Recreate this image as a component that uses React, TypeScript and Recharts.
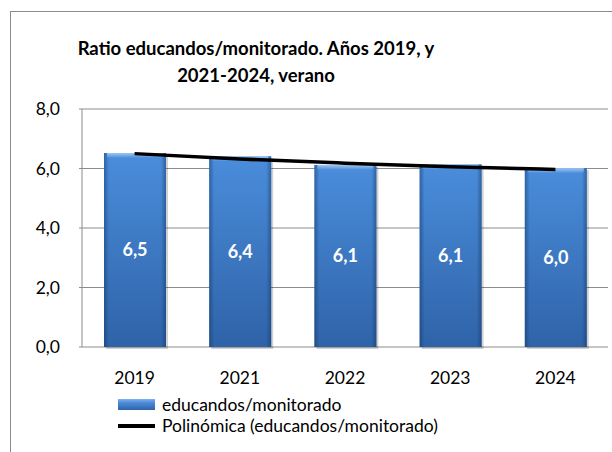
import React from 'react';
import { ComposedChart, Bar, Line, XAxis, YAxis, CartesianGrid, LabelList } from 'recharts';

const years = ['2019', '2021', '2022', '2023', '2024'];
const ratio = [6.52, 6.41, 6.12, 6.14, 6.01];
const trend = [6.5, 6.32, 6.18, 6.06, 5.97];
const yTicks = [0, 2, 4, 6, 8];

const data = years.map((year, i) => ({ year, ratio: ratio[i], trend: trend[i] }));

const FONT = 'Lato, "Open Sans", sans-serif';
const fmt = (v: number) => v.toFixed(1).replace('.', ',');

const BevelBar = (props: any) => {
  const { x, y, width, height } = props;
  if (!height || height <= 0) return null;
  return (
    <g>
      <rect x={x + 2} y={y + 2} width={width} height={height} fill="rgba(0,0,0,0.18)" />
      <rect x={x} y={y} width={width} height={height} fill="url(#barFill)" />
      <rect x={x} y={y} width={width} height={height} fill="url(#barEdge)" />
      <rect x={x + 3} y={y} width={width - 6} height={5} fill="url(#barTop)" />
    </g>
  );
};

const ChartLegend = () => (
  <div
    style={{
      position: 'absolute',
      left: 118,
      top: 394,
      fontFamily: FONT,
      fontSize: 17.5,
      color: '#000',
      lineHeight: '21px',
    }}
  >
    <div style={{ display: 'flex', alignItems: 'center' }}>
      <span
        style={{
          display: 'inline-block',
          width: 37,
          height: 11,
          marginRight: 7,
          background: 'linear-gradient(#7fb2ee 0%, #4a8ad8 35%, #2f64aa 100%)',
        }}
      />
      educandos/monitorado
    </div>
    <div style={{ display: 'flex', alignItems: 'center' }}>
      <span style={{ display: 'inline-block', width: 37, height: 4, marginRight: 7, background: '#000' }} />
      Polinómica (educandos/monitorado)
    </div>
  </div>
);

const App: React.FC = () => {
  return (
    <div style={{ position: 'absolute', left: 0, top: 0, width: 612, height: 452, background: '#fff', overflow: 'hidden' }}>
      <div
        style={{
          position: 'absolute',
          left: 10,
          top: 11,
          width: 640,
          height: 480,
          border: '1px solid #8c8c8c',
        }}
      />
      <div
        style={{
          position: 'absolute',
          left: 0,
          width: 512,
          top: 35,
          textAlign: 'center',
          fontFamily: FONT,
          fontWeight: 'bold',
          fontSize: 18.5,
          lineHeight: '27px',
          color: '#000',
        }}
      >
        Ratio educandos/monitorado. Años 2019, y
        <br />
        2021-2024, verano
      </div>
      <ComposedChart
        width={612}
        height={452}
        data={data}
        margin={{ top: 109, right: 4, left: 0, bottom: 75 }}
        style={{ position: 'absolute', left: 0, top: 0 }}
      >
        <defs>
          <linearGradient id="barFill" x1="0" y1="0" x2="0" y2="1">
            <stop offset="0%" stopColor="#4a8ddb" />
            <stop offset="100%" stopColor="#2f63a8" />
          </linearGradient>
          <linearGradient id="barEdge" x1="0" y1="0" x2="1" y2="0">
            <stop offset="0%" stopColor="#0d2f5e" stopOpacity={0.45} />
            <stop offset="8%" stopColor="#0d2f5e" stopOpacity={0} />
            <stop offset="92%" stopColor="#0d2f5e" stopOpacity={0} />
            <stop offset="100%" stopColor="#0d2f5e" stopOpacity={0.45} />
          </linearGradient>
          <linearGradient id="barTop" x1="0" y1="0" x2="0" y2="1">
            <stop offset="0%" stopColor="#a9cdf5" stopOpacity={0.9} />
            <stop offset="100%" stopColor="#a9cdf5" stopOpacity={0} />
          </linearGradient>
        </defs>
        <CartesianGrid vertical={false} stroke="#8c8c8c" strokeWidth={1} />
        <XAxis
          dataKey="year"
          height={30}
          axisLine={false}
          tickLine={false}
          tickMargin={19}
          tick={{ fill: '#000', fontSize: 17.5, fontFamily: FONT }}
        />
        <YAxis
          domain={[0, 8]}
          ticks={yTicks}
          width={82}
          tickFormatter={fmt}
          axisLine={{ stroke: '#8c8c8c' }}
          tickLine={{ stroke: '#8c8c8c' }}
          tickSize={3}
          tickMargin={19}
          tick={{ fill: '#000', fontSize: 17.5, fontFamily: FONT }}
        />
        <Bar dataKey="ratio" name="educandos/monitorado" barSize={62} shape={<BevelBar />} isAnimationActive={false}>
          <LabelList
            dataKey="ratio"
            position="center"
            formatter={(v: any) => fmt(Number(v))}
            fill="#fff"
            fontSize={18}
            fontWeight="bold"
            fontFamily={FONT}
            offset={0}
          />
        </Bar>
        <Line
          dataKey="trend"
          name="Polinómica (educandos/monitorado)"
          type="monotone"
          stroke="#000"
          strokeWidth={3.5}
          dot={false}
          isAnimationActive={false}
        />
      </ComposedChart>
      <ChartLegend />
    </div>
  );
};

export default App;
